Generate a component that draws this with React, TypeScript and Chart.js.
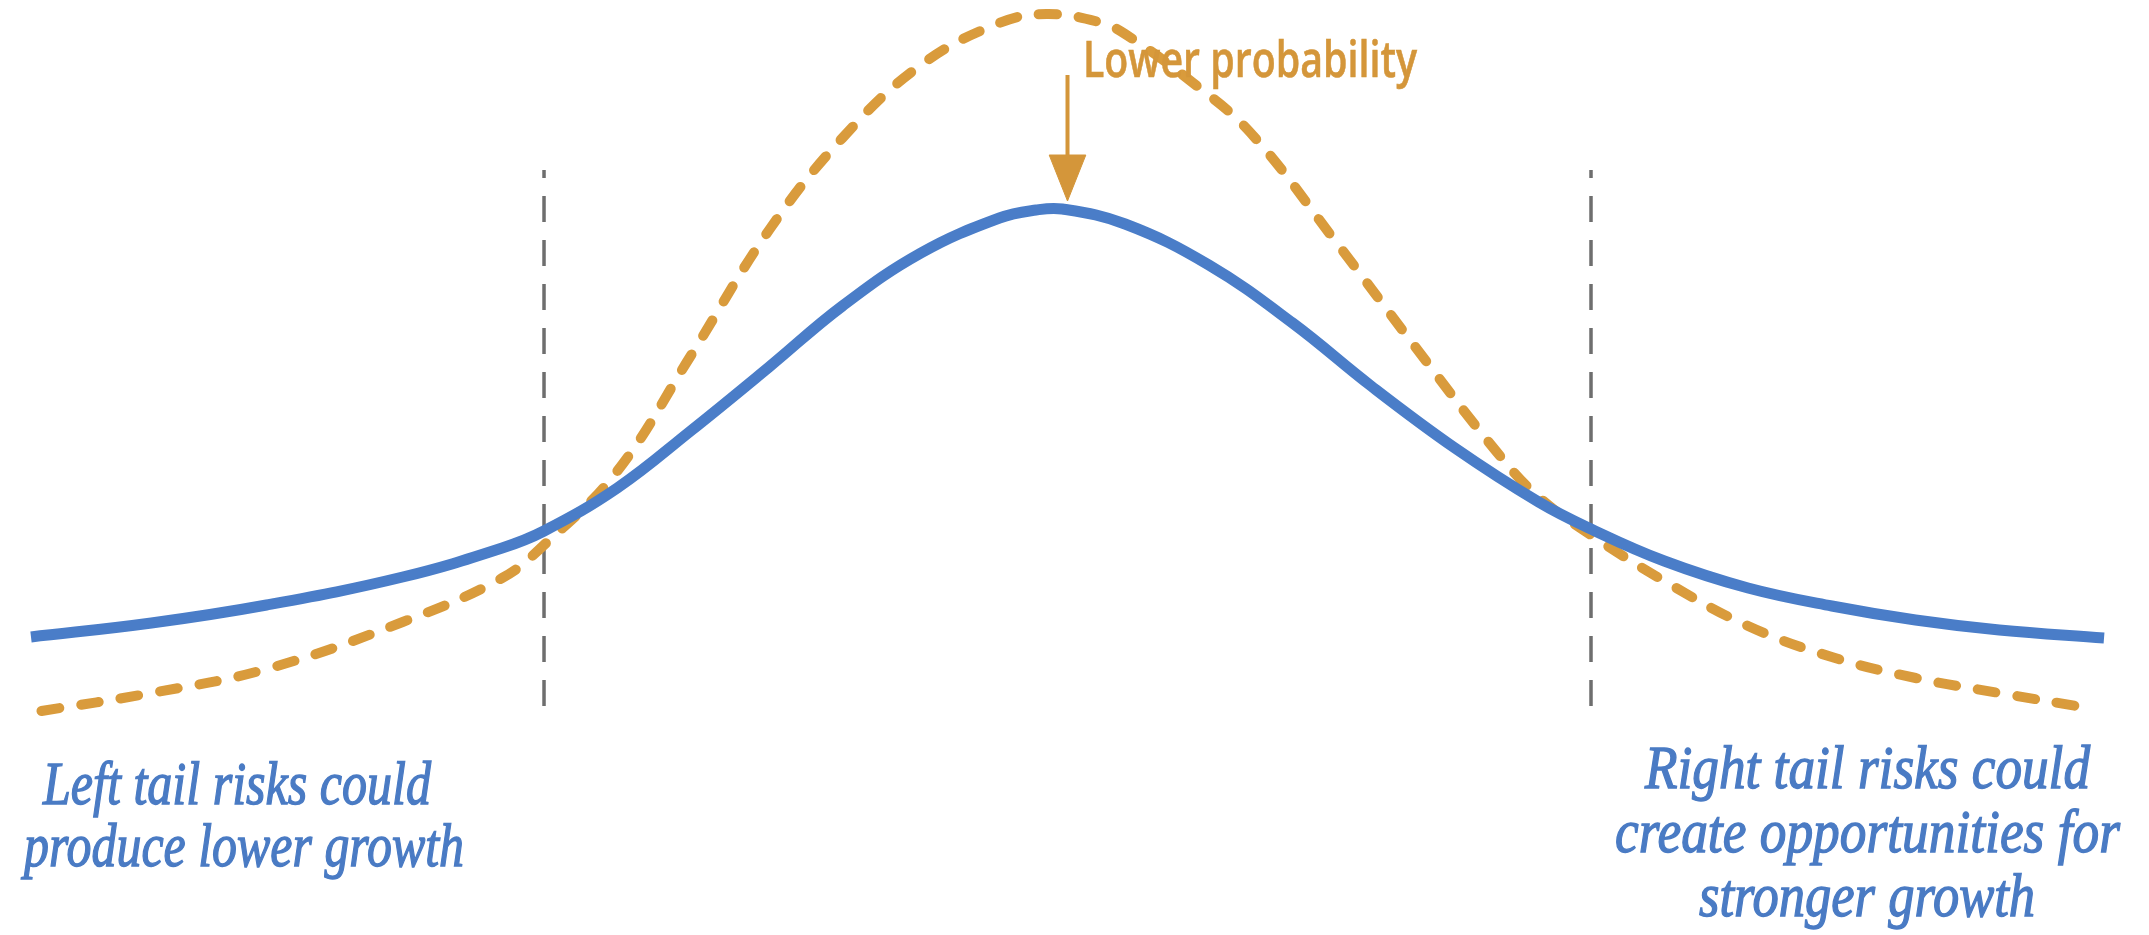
import { useEffect, useRef } from 'react';
import { Chart, registerables } from 'chart.js';

Chart.register(...registerables);

// outcome axis: 0 = central forecast, -1 / +1 = where the tails begin
const baselineX = [-1.98, -1.75, -1.53, -1.27, -1.08, -1.0, -0.86, -0.72, -0.57, -0.43, -0.28, -0.13, -0.06, -0.01, 0.11, 0.27, 0.43, 0.58, 0.74, 0.9, 1.0, 1.14, 1.3, 1.46, 1.62, 1.78, 1.98];
const baselineY = [16.3, 17.7, 19.5, 22.3, 25.2, 26.9, 31.2, 36.9, 43.3, 49.4, 54.7, 58.2, 59.0, 59.1, 57.6, 53.5, 47.7, 41.4, 35.2, 29.8, 27.1, 23.9, 21.2, 19.4, 18.0, 17.0, 16.2];

const narrowX = [-1.96, -1.75, -1.53, -1.27, -1.08, -1.0, -0.86, -0.72, -0.57, -0.43, -0.28, -0.13, -0.04, 0.06, 0.11, 0.24, 0.35, 0.51, 0.66, 0.82, 0.9, 1.0, 1.14, 1.3, 1.46, 1.62, 1.78, 1.95];
const narrowY = [8.9, 10.7, 13.1, 17.8, 22.2, 25.5, 32.9, 44.4, 57.0, 66.2, 73.5, 77.7, 78.6, 77.8, 76.6, 71.7, 66.7, 56.0, 45.6, 34.8, 30.3, 26.5, 21.9, 17.4, 14.3, 12.2, 10.7, 9.2];

const tailCutoffs = [-1, 1];
const cutoffSpan = [9.4, 63];

const arrowShaftY = [72.5, 64.5];
const arrowHeadX = [-0.035, 0.035, 0, -0.035];
const arrowHeadY = [64.5, 64.5, 59.9, 64.5];

const leftLines = ['Left tail risks could', 'produce lower growth'];
const rightLines = ['Right tail risks could', 'create opportunities for', 'stronger growth'];
const arrowLabel = 'Lower probability';

const BLUE = '#4a7dc8';
const ORANGE = '#d99b3c';
const TEXT_BLUE = '#4a7bc4';
const TEXT_ORANGE = '#d4963a';

const zip = (xs: number[], ys: number[]) => xs.map((x, i) => ({ x, y: ys[i] }));

const measureCtx = document.createElement('canvas').getContext('2d');
function fitScale(text: string, font: string, width: number) {
  if (!measureCtx) return 1;
  measureCtx.font = font;
  const w = measureCtx.measureText(text).width;
  return w ? width / w : 1;
}

type LineProps = {
  text: string;
  cx: number;
  baseline: number;
  width: number;
  size: number;
  family: string;
  italic?: boolean;
  weight?: number;
  stroke?: number;
  color: string;
  ascent: number;
};

function TextLine({ text, cx, baseline, width, size, family, italic, weight = 400, stroke = 0, color, ascent }: LineProps) {
  const font = `${italic ? 'italic ' : ''}${weight} ${size}px ${family}`;
  const s = fitScale(text, font, width);
  return (
    <div
      style={{
        position: 'absolute',
        left: cx - width / 2,
        top: baseline - ascent * size,
        font,
        lineHeight: `${size}px`,
        color,
        whiteSpace: 'nowrap',
        WebkitTextStroke: stroke ? `${stroke}px ${color}` : undefined,
        transform: `scaleX(${s})`,
        transformOrigin: 'left top',
      }}
    >
      {text}
    </div>
  );
}

const SERIF = '"Liberation Serif", serif';
const SANS = '"Open Sans", sans-serif';

export default function App() {
  const canvasRef = useRef<HTMLCanvasElement>(null);
  const chartRef = useRef<Chart | null>(null);

  useEffect(() => {
    if (!canvasRef.current) return;
    if (chartRef.current) chartRef.current.destroy();

    chartRef.current = new Chart(canvasRef.current, {
      type: 'line',
      data: {
        datasets: [
          {
            data: zip(baselineX, baselineY),
            borderColor: BLUE,
            borderWidth: 11,
            tension: 0.4,
            borderCapStyle: 'butt',
          },
          {
            data: zip(narrowX, narrowY),
            borderColor: ORANGE,
            borderWidth: 10,
            borderDash: [18, 22],
            borderCapStyle: 'round',
            tension: 0.4,
          },
          {
            data: zip([0, 0], arrowShaftY),
            borderColor: TEXT_ORANGE,
            borderWidth: 4,
            tension: 0,
          },
          {
            data: zip(arrowHeadX, arrowHeadY),
            borderColor: TEXT_ORANGE,
            backgroundColor: TEXT_ORANGE,
            borderWidth: 1,
            fill: 'shape',
            tension: 0,
          },
          ...tailCutoffs.map((c) => ({
            data: zip([c, c], cutoffSpan),
            borderColor: '#6e6e6e',
            borderWidth: 3.5,
            borderDash: [26, 18],
            tension: 0,
          })),
        ],
      },
      options: {
        animation: false,
        responsive: false,
        maintainAspectRatio: false,
        layout: { padding: 0 },
        plugins: { legend: { display: false }, tooltip: { enabled: false } },
        elements: { point: { radius: 0 } },
        scales: {
          x: { type: 'linear', display: false, min: -2.0392, max: 2.0659 },
          y: { display: false, min: -13.5, max: 80 },
        },
      },
    });

    return () => {
      if (chartRef.current) {
        chartRef.current.destroy();
        chartRef.current = null;
      }
    };
  }, []);

  return (
    <div style={{ position: 'absolute', left: 0, top: 0, width: 2149, height: 935, background: '#fff', overflow: 'hidden' }}>
      <canvas ref={canvasRef} width={2149} height={935} style={{ display: 'block' }} />
      <TextLine text={arrowLabel} cx={1083 + 167} baseline={77} width={334} size={50} family={SANS} weight={600} stroke={0.6} color={TEXT_ORANGE} ascent={0.888} />
      <TextLine text={leftLines[0]} cx={237} baseline={804} width={388} size={62} family={SERIF} italic stroke={1.4} color={TEXT_BLUE} ascent={0.8375} />
      <TextLine text={leftLines[1]} cx={244} baseline={866} width={440} size={62} family={SERIF} italic stroke={1.4} color={TEXT_BLUE} ascent={0.8375} />
      <TextLine text={rightLines[0]} cx={1867} baseline={788} width={445} size={62} family={SERIF} italic stroke={1.4} color={TEXT_BLUE} ascent={0.8375} />
      <TextLine text={rightLines[1]} cx={1867} baseline={852} width={505} size={62} family={SERIF} italic stroke={1.4} color={TEXT_BLUE} ascent={0.8375} />
      <TextLine text={rightLines[2]} cx={1867} baseline={916} width={336} size={62} family={SERIF} italic stroke={1.4} color={TEXT_BLUE} ascent={0.8375} />
    </div>
  );
}
